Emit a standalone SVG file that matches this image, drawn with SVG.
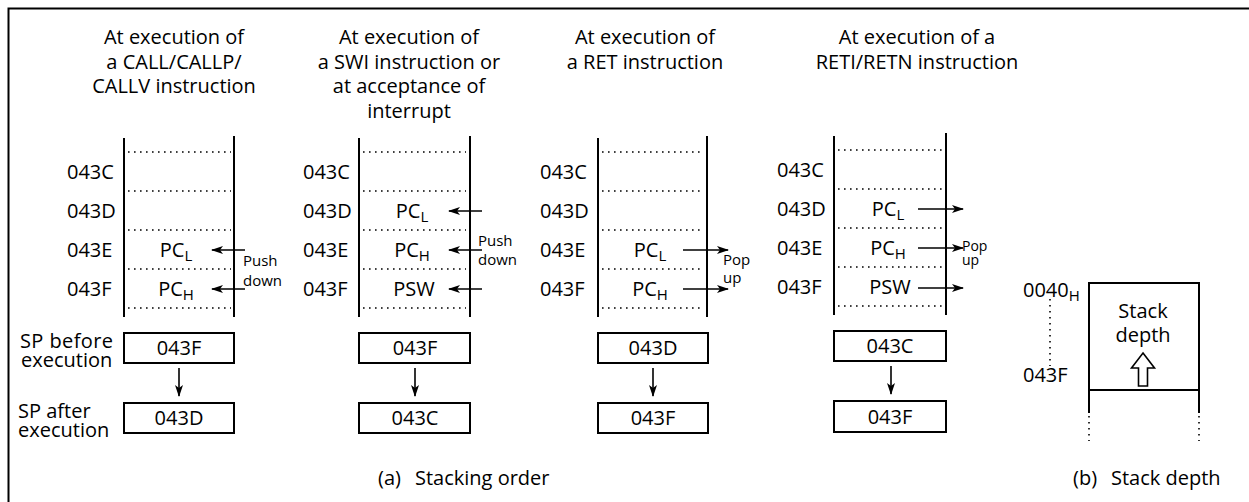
<svg xmlns="http://www.w3.org/2000/svg" width="1249" height="502" viewBox="0 0 1249 502">
<style>
text{font-family:"Open Sans","Noto Sans","Liberation Sans",sans-serif;font-size:20px;fill:#000}
.t{text-anchor:middle}
.s{font-size:15px}
.s14{font-size:14px}
.sub{font-size:15px}
.ln{stroke:#000;stroke-width:2;fill:none}
.dot{stroke:#000;stroke-width:1.6;stroke-dasharray:1.6 4.4;fill:none}
.box{stroke:#000;stroke-width:2;fill:#fff}
.ar{stroke:#000;stroke-width:1.6;fill:none;marker-end:url(#ah)}
</style>
<defs>
<marker id="ah" viewBox="0 0 12 8" refX="11" refY="4" markerWidth="12" markerHeight="8" orient="auto" markerUnits="userSpaceOnUse"><path d="M0,0 L12,4 L0,8 L3,4 Z" fill="#000"/></marker>
</defs>
<rect width="1249" height="502" fill="#fff"/>
<g id="frame"><path class="ln" d="M8.5,502 V8.5 H1249" stroke-width="2.5"/></g>

<g id="col1">
<text class="t" x="174" y="44">At execution of</text>
<text class="t" x="174" y="68.5">a CALL/CALLP/</text>
<text class="t" x="174" y="93">CALLV instruction</text>
<path class="ln" d="M124,138 V317 M234,136 V317"/>
<path class="dot" d="M128,152 H231 M128,191 H231 M128,230 H231 M128,269 H231 M128,308 H231"/>
<text x="67" y="179">043C</text><text x="67" y="218">043D</text><text x="67" y="257">043E</text><text x="67" y="296">043F</text>
<text class="t" x="176" y="257">PC<tspan class="sub" dy="4">L</tspan></text>
<text class="t" x="176" y="296">PC<tspan class="sub" dy="4">H</tspan></text>
<text class="s" x="243" y="266">Push</text><text class="s" x="243" y="286">down</text>
<text x="20" y="348" textLength="93">SP before</text><text x="21" y="367">execution</text>
<text x="18" y="418">SP after</text><text x="18" y="437">execution</text>
<rect class="box" x="124" y="333" width="110" height="30"/><text class="t" x="179" y="355">043F</text>
<rect class="box" x="124" y="403" width="110" height="30"/><text class="t" x="179" y="425">043D</text>
</g>

<g id="col2">
<text class="t" x="409" y="44">At execution of</text>
<text class="t" x="409" y="68.5">a SWI instruction or</text>
<text class="t" x="409" y="93">at acceptance of</text>
<text class="t" x="409" y="117.5">interrupt</text>
<path class="ln" d="M359,138 V317 M470,136 V317"/>
<path class="dot" d="M363,152 H466 M363,191 H466 M363,230 H466 M363,269 H466 M363,308 H466"/>
<text x="303" y="179">043C</text><text x="303" y="218">043D</text><text x="303" y="257">043E</text><text x="303" y="296">043F</text>
<text class="t" x="412" y="218">PC<tspan class="sub" dy="4">L</tspan></text>
<text class="t" x="412" y="257">PC<tspan class="sub" dy="4">H</tspan></text>
<text class="t" x="414" y="296">PSW</text>
<text class="s" x="478" y="246">Push</text><text class="s" x="478" y="265">down</text>
<rect class="box" x="359" y="333" width="111" height="30"/><text class="t" x="415" y="355">043F</text>
<rect class="box" x="359" y="403" width="111" height="30"/><text class="t" x="415" y="425">043C</text>
</g>

<g id="col3">
<text class="t" x="645" y="44">At execution of</text>
<text class="t" x="645" y="68.5">a RET instruction</text>
<path class="ln" d="M598,138 V317 M707,136 V317"/>
<path class="dot" d="M602,152 H704 M602,191 H704 M602,230 H704 M602,269 H704 M602,308 H704"/>
<text x="540" y="179">043C</text><text x="540" y="218">043D</text><text x="540" y="257">043E</text><text x="540" y="296">043F</text>
<text class="t" x="650" y="257">PC<tspan class="sub" dy="4">L</tspan></text>
<text class="t" x="650" y="296">PC<tspan class="sub" dy="4">H</tspan></text>
<text class="s" x="723" y="265">Pop</text><text class="s" x="723" y="283">up</text>
<rect class="box" x="598" y="333" width="110" height="30"/><text class="t" x="653" y="355">043D</text>
<rect class="box" x="598" y="403" width="110" height="30"/><text class="t" x="653" y="425">043F</text>
</g>

<g id="col4">
<text class="t" x="917" y="44">At execution of a</text>
<text class="t" x="917" y="68.5">RETI/RETN instruction</text>
<path class="ln" d="M834,136 V315 M946,133 V315"/>
<path class="dot" d="M838,150 H942 M838,189 H942 M838,228 H942 M838,267 H942 M838,306 H942"/>
<text x="777" y="177">043C</text><text x="777" y="216">043D</text><text x="777" y="255">043E</text><text x="777" y="294">043F</text>
<text class="t" x="888" y="216">PC<tspan class="sub" dy="4">L</tspan></text>
<text class="t" x="888" y="255">PC<tspan class="sub" dy="4">H</tspan></text>
<text class="t" x="890" y="294">PSW</text>
<text class="s14" x="962" y="251">Pop</text><text class="s14" x="962" y="265">up</text>
<rect class="box" x="834" y="331" width="112" height="30"/><text class="t" x="890" y="353">043C</text>
<rect class="box" x="834" y="401" width="112" height="31"/><text class="t" x="890" y="424">043F</text>
</g>

<g id="connectors">
<path class="ar" d="M245,250 H212"/>
<path class="ar" d="M245,289 H212"/>
<path class="ar" d="M482,211 H449"/>
<path class="ar" d="M482,250 H449"/>
<path class="ar" d="M482,289 H449"/>
<path class="ar" d="M683,250 H728"/>
<path class="ar" d="M683,289 H728"/>
<path class="ar" d="M918,209 H963"/>
<path class="ar" d="M918,248 H963"/>
<path class="ar" d="M918,288 H963"/>
<path class="ar" d="M179,368 V396"/>
<path class="ar" d="M415,368 V396"/>
<path class="ar" d="M653,368 V396"/>
<path class="ar" d="M891,366 V394"/>
</g>

<g id="caption-a"><text x="378" y="485">(a)</text><text x="415" y="485">Stacking order</text></g>

<g id="stack-depth">
<text x="1023" y="297">0040<tspan class="sub" dy="4">H</tspan></text>
<path class="dot" d="M1050,299 V366" stroke-dasharray="1.6 3.4"/>
<text x="1023" y="382">043F</text>
<path class="ln" d="M1089,413 V283 H1199 V413 M1089,390 H1199"/>
<path class="dot" d="M1089,416 V441 M1199,416 V441" stroke-dasharray="1.6 4"/>
<text class="t" x="1143" y="318">Stack</text>
<text class="t" x="1143" y="342">depth</text>
<polygon points="1143,353 1154.5,368 1147.5,368 1147.5,386 1138.5,386 1138.5,368 1131.5,368" fill="#fff" stroke="#000" stroke-width="1.6"/>
<text x="1073" y="485">(b)</text><text x="1111" y="485">Stack depth</text>
</g>
</svg>
